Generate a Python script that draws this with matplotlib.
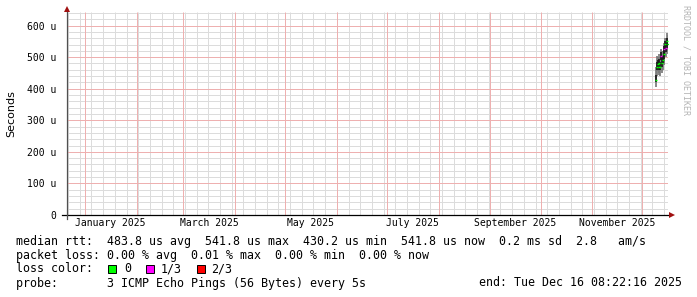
import matplotlib
matplotlib.use("Agg")
import matplotlib.pyplot as plt
from matplotlib.lines import Line2D
from matplotlib.patches import Rectangle
import numpy as np
import datetime as dt

# ---------------- data ----------------
times = ["2025-12-09 06:00", "2025-12-09 18:00", "2025-12-10 06:00", "2025-12-10 18:00",
         "2025-12-11 06:00", "2025-12-11 18:00", "2025-12-12 06:00", "2025-12-12 18:00",
         "2025-12-13 06:00", "2025-12-13 18:00", "2025-12-14 06:00", "2025-12-14 18:00",
         "2025-12-15 06:00", "2025-12-15 18:00", "2025-12-16 06:00"]
median_us = [428, 470, 478, 470, 482, 470, 505, 480, 490, 525, 510, 541, 530, 550, 541.8]
smoke_lo_us = [405, 440, 455, 445, 450, 440, 470, 450, 460, 480, 475, 505, 500, 520, 510]
smoke_hi_us = [470, 505, 500, 500, 510, 500, 525, 520, 520, 545, 535, 560, 560, 575, 570]
inner_lo_us = [420, 460, 465, 460, 470, 460, 490, 470, 480, 505, 495, 525, 515, 535, 530]
inner_hi_us = [445, 485, 490, 485, 495, 485, 515, 500, 505, 535, 525, 550, 545, 560, 555]
loss_level = [0, 0, 0, 0, 0, 0, 1, 0, 0, 1, 0, 0, 1, 0, 0]

loss_colors = ["#00ff00", "#ff00ff", "#ff0000"]
loss_labels = ["0", "1/3", "2/3"]
ytick_values_us = [0, 100, 200, 300, 400, 500, 600]
ytick_labels = ["0", "100 u", "200 u", "300 u", "400 u", "500 u", "600 u"]
month_labels = ["January 2025", "March 2025", "May 2025", "July 2025",
                "September 2025", "November 2025"]
label_months = [(2025, 1), (2025, 3), (2025, 5), (2025, 7), (2025, 9), (2025, 11)]

end_time = dt.datetime(2025, 12, 16, 8, 22, 16)
start_time = end_time - dt.timedelta(days=360)

stats_line1 = "median rtt:  483.8 us avg  541.8 us max  430.2 us min  541.8 us now  0.2 ms sd  2.8   am/s"
stats_line2 = "packet loss: 0.00 % avg  0.01 % max  0.00 % min  0.00 % now"
probe_line = "probe:       3 ICMP Echo Pings (56 Bytes) every 5s"
end_line = "end: Tue Dec 16 08:22:16 2025"

# ---------------- figure ----------------
W, H = 697, 297
fig = plt.figure(figsize=(W / 100, H / 100), dpi=100)
fig.patch.set_facecolor("white")

def fx(x):
    return x / W

def fy(y):
    return 1 - y / H

ax_l, ax_r, ax_t, ax_b = 67, 668, 12, 215
ax = fig.add_axes([fx(ax_l), fy(ax_b), fx(ax_r - ax_l), (ax_b - ax_t) / H])
ax.set_facecolor("white")

ymax = 6.43e-4
ax.set_xlim(start_time, end_time)
ax.set_ylim(0, ymax)

mono = "DejaVu Sans Mono"

# grid positions
d = start_time.date()
sundays = []
d0 = d + dt.timedelta(days=(6 - d.weekday()) % 7)
while d0 <= end_time.date():
    sundays.append(dt.datetime(d0.year, d0.month, d0.day))
    d0 += dt.timedelta(days=7)
month_starts = []
y, m = 2025, 1
while dt.datetime(y, m, 1) <= end_time:
    month_starts.append(dt.datetime(y, m, 1))
    m += 1
    if m > 12:
        m = 1
        y += 1

ax.set_xticks([])
ax.set_yticks([v * 1e-6 for v in ytick_values_us])
ax.set_yticklabels(ytick_labels, fontfamily=mono, fontsize=7)
ax.tick_params(axis="both", which="both", length=0)
ax.tick_params(axis="y", pad=8)

minor_c = "#dcdcdc"
major_c = "#eeb0b0"
gkw = dict(linewidth=0.72, zorder=0.5, snap=True, solid_capstyle="butt")
for s in sundays:
    ax.axvline(s, color=minor_c, **gkw)
for v in np.arange(20e-6, ymax, 20e-6):
    if round(v * 1e6) % 100 != 0:
        ax.axhline(v, color=minor_c, **gkw)
for s in month_starts:
    ax.axvline(s, color=major_c, **gkw)
for v in ytick_values_us[1:]:
    ax.axhline(v * 1e-6, color=major_c, **gkw)
for s in ax.spines.values():
    s.set_visible(False)

# month labels centered in their month
for (yy, mm), lab in zip(label_months, month_labels):
    a = dt.datetime(yy, mm, 1)
    b = dt.datetime(yy + (mm // 12), mm % 12 + 1, 1)
    mid = a + (b - a) / 2
    ax.text(mid, -0.015, lab, transform=ax.get_xaxis_transform(), ha="center",
            va="top", fontfamily=mono, fontsize=7, color="black", clip_on=False)

# data
tx = [dt.datetime.strptime(t, "%Y-%m-%d %H:%M") for t in times]
ax.vlines(tx, [v * 1e-6 for v in smoke_lo_us], [v * 1e-6 for v in smoke_hi_us],
          color="#7a7a7a", linewidth=1.25, zorder=3)
ax.vlines(tx, [v * 1e-6 for v in inner_lo_us], [v * 1e-6 for v in inner_hi_us],
          color="#1a1a1a", linewidth=1.25, zorder=3)
for t, mval, lv in zip(tx, median_us, loss_level):
    ax.plot([t], [mval * 1e-6], marker="_", markersize=1.3, color=loss_colors[lv],
            markeredgewidth=1.0, linestyle="none", zorder=4)

ax.set_ylabel("Seconds", fontsize=8)
ax.yaxis.set_label_coords(-(67 - 16) / (ax_r - ax_l), 0.5)

# axes lines with arrows
fig.add_artist(Line2D([fx(62), fx(670)], [fy(215), fy(215)], color="black", linewidth=0.9))
fig.add_artist(Line2D([fx(67), fx(67)], [fy(219), fy(9)], color="#505050", linewidth=0.9))
fig.add_artist(Line2D([fx(672)], [fy(215)], marker=">", markersize=4.5, color="#a01010",
                      markeredgewidth=0))
fig.add_artist(Line2D([fx(67)], [fy(9)], marker="^", markersize=4.5, color="#a01010",
                      markeredgewidth=0))

# watermark
fig.text(fx(686), fy(5), "RRDTOOL / TOBI OETIKER", rotation=270, ha="center", va="top",
         fontfamily=mono, fontsize=6, color="#b4b4b4")

# legend text
fs = 8.4
fig.text(fx(16), fy(241), stats_line1, ha="left", va="center", fontfamily=mono, fontsize=fs)
fig.text(fx(16), fy(255), stats_line2, ha="left", va="center", fontfamily=mono, fontsize=fs)
fig.text(fx(16), fy(269), "loss color:", ha="left", va="center", fontfamily=mono, fontsize=fs)
sq_x = [108, 146, 197]
lab_x = [124, 161, 211]
for c, lab, sx, lx in zip(loss_colors, loss_labels, sq_x, lab_x):
    fig.add_artist(Rectangle((fx(sx), fy(273)), fx(8), 8 / H, facecolor=c,
                             edgecolor="black", linewidth=0.7, transform=fig.transFigure))
    fig.text(fx(lx), fy(269), lab, ha="left", va="center", fontfamily=mono, fontsize=fs)
fig.text(fx(16), fy(283), probe_line, ha="left", va="center", fontfamily=mono, fontsize=fs)
fig.text(fx(682), fy(283), end_line, ha="right", va="center", fontfamily=mono, fontsize=fs)

fig.savefig("out.png", dpi=100)
